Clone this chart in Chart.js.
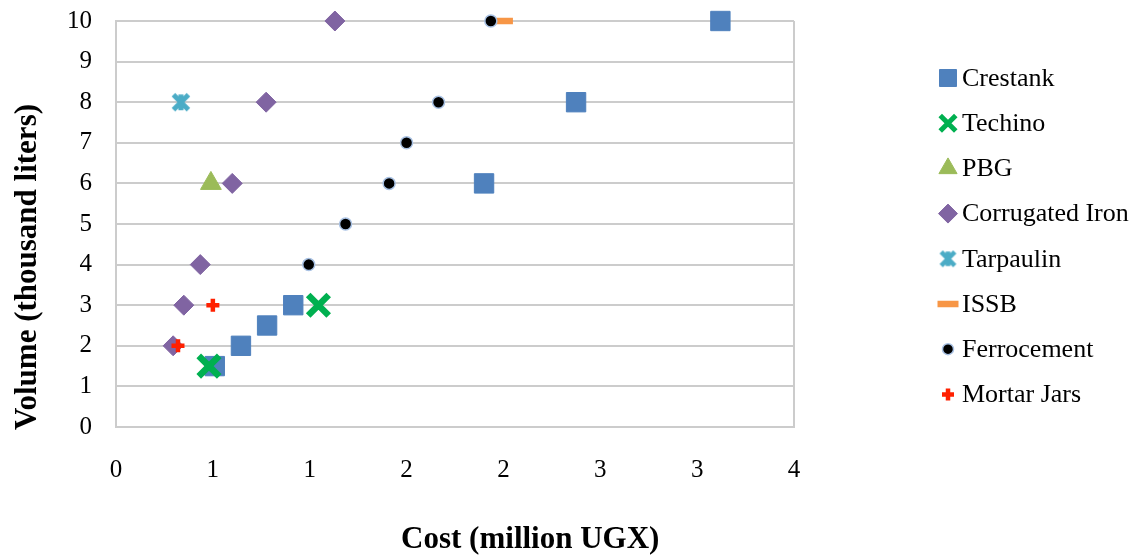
<!DOCTYPE html>
<html>
<head>
<meta charset="utf-8">
<script src="https://cdn.jsdelivr.net/npm/chart.js@4/dist/chart.umd.min.js"></script>
<style>
  html, body { margin: 0; padding: 0; background: #ffffff; }
  #wrap { width: 1147px; height: 559px; position: relative; }
</style>
</head>
<body>
<div id="wrap"><canvas id="chart" width="1147" height="559"></canvas></div>
<script>
// Tank types: cost (million UGX) against volume (thousand liters)
const seriesNames = ['Crestank', 'Techino', 'PBG', 'Corrugated Iron', 'Tarpaulin', 'ISSB', 'Ferrocement', 'Mortar Jars'];

const crestankCost   = [0.51, 0.645, 0.78, 0.915, 1.90, 2.375, 3.12];
const crestankVolume = [1.5, 2, 2.5, 3, 6, 8, 10];

const techinoCost   = [0.48, 1.045];
const techinoVolume = [1.5, 3];

const pbgCost   = [0.49];
const pbgVolume = [6];

const corrugatedCost   = [0.295, 0.35, 0.435, 0.60, 0.775, 1.13];
const corrugatedVolume = [2, 3, 4, 6, 8, 10];

const tarpaulinCost   = [0.335];
const tarpaulinVolume = [8];

const issbCost   = [2.0];
const issbVolume = [10];

const ferroCost   = [0.995, 1.185, 1.41, 1.50, 1.665, 1.935];
const ferroVolume = [4, 5, 6, 7, 8, 10];

const mortarCost   = [0.32, 0.50];
const mortarVolume = [2, 3];

// x ticks run 0..3.5 in steps of 0.5, labelled with whole numbers
const xTickLabels = ['0', '1', '1', '2', '2', '3', '3', '4'];
const yTickLabels = ['0', '1', '2', '3', '4', '5', '6', '7', '8', '9', '10'];

const GRID = '#cccccc';
const FONT = '"Liberation Serif", "Times New Roman", serif';

function pairs(xs, ys) {
  return xs.map((x, i) => ({ x: x, y: ys[i] }));
}

// Asterisk-like marker: an X with a vertical bar
function starMarker(color, arm, lw) {
  const size = Math.ceil(2 * arm + lw + 4);
  const cv = document.createElement('canvas');
  cv.width = size; cv.height = size;
  const g = cv.getContext('2d');
  g.translate(size / 2, size / 2);
  g.strokeStyle = color;
  g.lineWidth = lw;
  g.lineCap = 'butt';
  g.beginPath();
  g.moveTo(-arm, -arm); g.lineTo(arm, arm);
  g.moveTo(arm, -arm); g.lineTo(-arm, arm);
  g.moveTo(0, -arm * 1.05); g.lineTo(0, arm * 1.05);
  g.stroke();
  return cv;
}

const tarpStar = starMarker('#4BACC6', 7.5, 5);
const tarpStarSmall = starMarker('#4BACC6', 6.8, 4.6);

// Marker look for each series (r: plot radius, lr: legend radius)
const markerStyles = [
  { pointStyle: 'rect',     bg: '#4F81BD', border: '#4F81BD', bw: 1,   r: 13.7, lr: 12 },
  { pointStyle: 'crossRot', bg: '#00B050', border: '#00B050', bw: 6.5, r: 14.5, lr: 11, lbw: 5 },
  { pointStyle: 'triangle', bg: '#9BBB59', border: '#9BBB59', bw: 1,   r: 12,   lr: 10.5 },
  { pointStyle: 'rectRot',  bg: '#8064A2', border: '#8064A2', bw: 1,   r: 10,   lr: 9.5 },
  { pointStyle: tarpStar,   bg: '#4BACC6', border: '#4BACC6', bw: 1,   r: 10,   lr: 10, legendImage: tarpStarSmall },
  { pointStyle: 'line',     bg: '#F79646', border: '#F79646', bw: 6.5, r: 9.5,  lr: 10.5 },
  { pointStyle: 'circle',   bg: '#000000', border: '#a9c2e4', bw: 1.5, r: 6,    lr: 5.5 },
  { pointStyle: 'cross',    bg: '#FF2000', border: '#FF2000', bw: 4.5, r: 6.5,  lr: 6, lbw: 4.5 }
];

const seriesData = [
  pairs(crestankCost, crestankVolume),
  pairs(techinoCost, techinoVolume),
  pairs(pbgCost, pbgVolume),
  pairs(corrugatedCost, corrugatedVolume),
  pairs(tarpaulinCost, tarpaulinVolume),
  pairs(issbCost, issbVolume),
  pairs(ferroCost, ferroVolume),
  pairs(mortarCost, mortarVolume)
];

const datasets = seriesNames.map((name, i) => {
  const m = markerStyles[i];
  return {
    label: name,
    data: seriesData[i],
    showLine: false,
    clip: false,
    pointStyle: m.pointStyle,
    pointRadius: m.r,
    pointBackgroundColor: m.bg,
    pointBorderColor: m.border,
    pointBorderWidth: m.bw,
    backgroundColor: m.bg,
    borderColor: m.border,
    // later series are painted over earlier ones
    order: seriesNames.length - i
  };
});

// Legend on the right, listed in series order
const sideLegend = {
  id: 'sideLegend',
  afterDraw(chart) {
    const ctx = chart.ctx;
    const area = chart.chartArea;
    const markerX = area.right + 154;
    const textX = markerX + 14;
    const top = area.top + 57;
    const pitch = 45.2;
    ctx.save();
    chart.data.datasets.forEach((ds, i) => {
      const m = markerStyles[i];
      const y = top + i * pitch;
      ctx.fillStyle = m.bg;
      ctx.strokeStyle = m.border;
      ctx.lineWidth = m.lbw || m.bw;
      Chart.helpers.drawPoint(ctx, {
        pointStyle: m.legendImage || m.pointStyle,
        radius: m.lr,
        rotation: 0,
        borderWidth: m.lbw || m.bw
      }, markerX, y);
      ctx.fillStyle = '#000000';
      ctx.font = '26px ' + FONT;
      ctx.textAlign = 'left';
      ctx.textBaseline = 'middle';
      ctx.fillText(ds.label, textX, y + 1);
    });
    ctx.restore();
  }
};

// Axis titles
const axisTitles = {
  id: 'axisTitles',
  afterDraw(chart) {
    const ctx = chart.ctx;
    const a = chart.chartArea;
    ctx.save();
    ctx.fillStyle = '#000000';
    ctx.font = 'bold 31px ' + FONT;
    ctx.textAlign = 'center';
    ctx.textBaseline = 'middle';
    ctx.fillText('Cost (million UGX)', a.left + (a.right - a.left) * 0.611, a.bottom + 113);
    ctx.translate(28, a.top + (a.bottom - a.top) * 0.606);
    ctx.rotate(-Math.PI / 2);
    ctx.fillText('Volume (thousand liters)', 0, 0);
    ctx.restore();
  }
};

new Chart(document.getElementById('chart'), {
  type: 'scatter',
  data: { datasets: datasets },
  options: {
    responsive: false,
    animation: false,
    events: [],
    layout: { padding: { left: 0, right: 353, top: 20, bottom: 0 } },
    plugins: {
      legend: { display: false },
      tooltip: { enabled: false }
    },
    scales: {
      x: {
        type: 'linear',
        min: 0,
        max: 3.5,
        border: { display: true, color: GRID, width: 2 },
        grid: {
          drawTicks: false,
          lineWidth: 2,
          color: (c) => (c.tick && c.tick.value === 3.5) ? GRID : 'rgba(0,0,0,0)'
        },
        ticks: {
          stepSize: 0.5,
          padding: 28,
          color: '#000000',
          font: { family: FONT, size: 25 },
          maxRotation: 0,
          autoSkip: false,
          callback: (v, i) => xTickLabels[i]
        },
        afterFit: (scale) => { scale.height = 132; }
      },
      y: {
        type: 'linear',
        min: 0,
        max: 10,
        border: { display: true, color: GRID, width: 2 },
        grid: { drawTicks: false, lineWidth: 2, color: GRID },
        ticks: {
          stepSize: 1,
          padding: 24,
          color: '#000000',
          font: { family: FONT, size: 25 },
          callback: (v, i) => yTickLabels[i]
        },
        afterFit: (scale) => {
          scale.width = 116;
          scale.paddingTop = 0;
          scale.paddingBottom = 0;
        }
      }
    }
  },
  plugins: [sideLegend, axisTitles]
});
</script>
</body>
</html>
